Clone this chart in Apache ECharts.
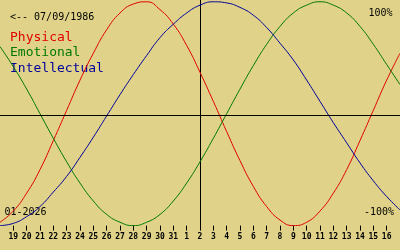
<!DOCTYPE html>
<html>
<head>
<meta charset="utf-8">
<script src="https://cdn.jsdelivr.net/npm/echarts@6/dist/echarts.min.js"></script>
<style>
html,body{margin:0;padding:0;background:#e0d389;}
#c{width:400px;height:250px;}
</style>
</head>
<body>
<div id="c"></div>
<script>
// Days shown (Jan 18 2026 .. Feb 17 2026); Feb 2 is "today"
const days = ['18','19','20','21','22','23','24','25','26','27','28','29','30','31',
              '1','2','3','4','5','6','7','8','9','10','11','12','13','14','15','16','17'];
const todayIndex = 15;
// biorhythm values in percent, one per day
const physical = [-97,-87,-71,-50,-24,3,30,54,75,90,98,100,93,80,61,37,11,-16,-42,-65,-83,-95,-100,-97,-87,-71,-50,-24,3,30,54];
const emotional = [60,42,22,0,-22,-43,-62,-78,-90,-97,-100,-97,-90,-78,-62,-43,-22,0,22,43,62,78,90,97,100,97,90,78,62,44,26];
const intellectual = [-100,-98,-92,-83,-70,-56,-39,-21,-2,17,35,52,68,80,90,97,100,99,95,88,77,63,48,30,11,-8,-26,-44,-60,-74,-86];
const seriesNames = ['Physical','Emotional','Intellectual'];
const colors = ['#e00000','#007800','#00009c'];
const birthText = '<-- 07/09/1986';
const monthText = '01-2026';
const topText = '100%';
const bottomText = '-100%';
const zeroLine = -1.6;

const toXY = arr => arr.map((v, i) => [i - todayIndex, v]);
const tickValues = [];
for (let i = 1; i < days.length - 1; i++) tickValues.push(i - todayIndex);

const mono = 'DejaVu Sans Mono';
const chart = echarts.init(document.getElementById('c'), null, {renderer: 'canvas'});
chart.setOption({
  backgroundColor: '#e0d389',
  animation: false,
  grid: {left: 0, right: 0, top: 0, bottom: 24.4},
  xAxis: {
    type: 'value',
    min: -todayIndex, max: days.length - 1 - todayIndex, interval: 1,
    axisLine: {show: false, onZero: false},
    splitLine: {show: false},
    axisTick: {show: true, length: 5, lineStyle: {color: '#000', width: 1}, customValues: tickValues},
    axisLabel: {
      show: true, margin: 7, customValues: tickValues,
      fontFamily: mono, fontWeight: 'bold', fontSize: 8, color: '#000',
      formatter: v => days[Math.round(v) + todayIndex]
    }
  },
  yAxis: {
    type: 'value', min: -100, max: 101.6,
    axisLine: {show: true, onZero: true, lineStyle: {color: '#000', width: 1}},
    axisTick: {show: false}, axisLabel: {show: false}, splitLine: {show: false}
  },
  series: [
    {name: seriesNames[0], type: 'line', data: toXY(physical), smooth: true, symbol: 'none',
     lineStyle: {color: colors[0], width: 1},
     markLine: {silent: true, symbol: ['none','none'], label: {show: false},
       lineStyle: {color: '#000', type: 'solid', width: 1}, data: [{yAxis: zeroLine}]}},
    {name: seriesNames[1], type: 'line', data: toXY(emotional), smooth: true, symbol: 'none',
     lineStyle: {color: colors[1], width: 1}},
    {name: seriesNames[2], type: 'line', data: toXY(intellectual), smooth: true, symbol: 'none',
     lineStyle: {color: colors[2], width: 1}}
  ],
  graphic: [
    {type: 'text', left: 10, top: 12, style: {text: birthText, font: '10px ' + mono, fill: '#000'}},
    {type: 'text', left: 10, top: 31, style: {text: seriesNames[0], font: '13px ' + mono, fill: colors[0]}},
    {type: 'text', left: 10, top: 46.5, style: {text: seriesNames[1], font: '13px ' + mono, fill: colors[1]}},
    {type: 'text', left: 10, top: 62, style: {text: seriesNames[2], font: '13px ' + mono, fill: colors[2]}},
    {type: 'text', left: 368.5, top: 8, style: {text: topText, font: '10px ' + mono, fill: '#000'}},
    {type: 'text', left: 364, top: 207.5, style: {text: bottomText, font: '10px ' + mono, fill: '#000'}},
    {type: 'text', left: 4.5, top: 207.5, style: {text: monthText, font: '10px ' + mono, fill: '#000'}}
  ]
});
</script>
</body>
</html>
